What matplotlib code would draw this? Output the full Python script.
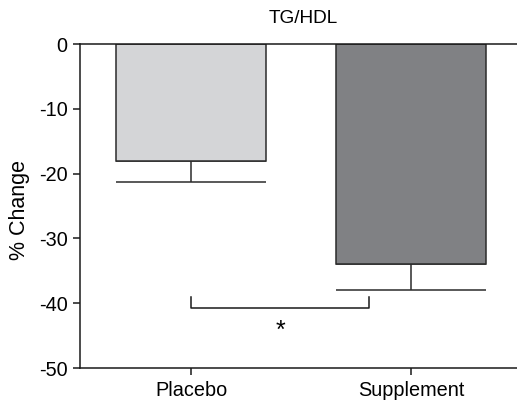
import matplotlib
matplotlib.use("Agg")
import matplotlib.pyplot as plt

plt.rcParams['font.family'] = ['Liberation Sans', 'DejaVu Sans']

# data
groups = ['Placebo', 'Supplement']
pct_change = [-18.1, -34.0]
sem = [3.2, 4.0]
bar_colors = ['#d4d5d7', '#808184']
yticks = [0, -10, -20, -30, -40, -50]

# significance bracket (group index, y value)
sig_x = [0, 0.81]
sig_y = -40.8
sig_tick = -39.1
sig_label = '*'

fig = plt.figure(figsize=(5.17, 4.09), dpi=100)
ax = fig.add_axes([0.1547, 0.1002, 0.845, 0.7922])

x = list(range(len(groups)))
ax.bar(x, pct_change, width=0.68, color=bar_colors, edgecolor='#2b2b2b',
       linewidth=1.1, zorder=2)
# error bars only going down
ax.errorbar(x, pct_change, yerr=[sem, [0] * len(sem)], fmt='none',
            ecolor='#2b2b2b', elinewidth=1.1, capsize=54, capthick=1.1,
            zorder=1)

# bracket
ax.plot([sig_x[0], sig_x[0], sig_x[1], sig_x[1]],
        [sig_tick, sig_y, sig_y, sig_tick], color='#1a1a1a', lw=1.1)
ax.text((sig_x[0] + sig_x[1]) / 2, sig_y - 3.4, sig_label, ha='center',
        va='center', fontsize=18)

ax.set_xlim(-0.505, 1.482)
ax.set_ylim(-50, 0)
ax.set_yticks(yticks)
ax.set_yticklabels([str(v) for v in yticks])
ax.set_xticks(x)
ax.set_xticklabels(groups)

for s in ['right']:
    ax.spines[s].set_visible(False)
for s in ['left', 'bottom', 'top']:
    ax.spines[s].set_linewidth(1.1)
    ax.spines[s].set_color('#1a1a1a')

ax.tick_params(axis='both', length=5, width=1.1, color='#1a1a1a',
               labelsize=14.3, pad=4)
ax.set_ylabel('% Change', fontsize=15.5)
ax.yaxis.set_label_coords(-0.114, 0.488)

fig.text(303 / 517, 1 - 18.5 / 409, 'TG/HDL', ha='center', va='center',
         fontsize=13.7)

fig.savefig('out.png', dpi=100)
